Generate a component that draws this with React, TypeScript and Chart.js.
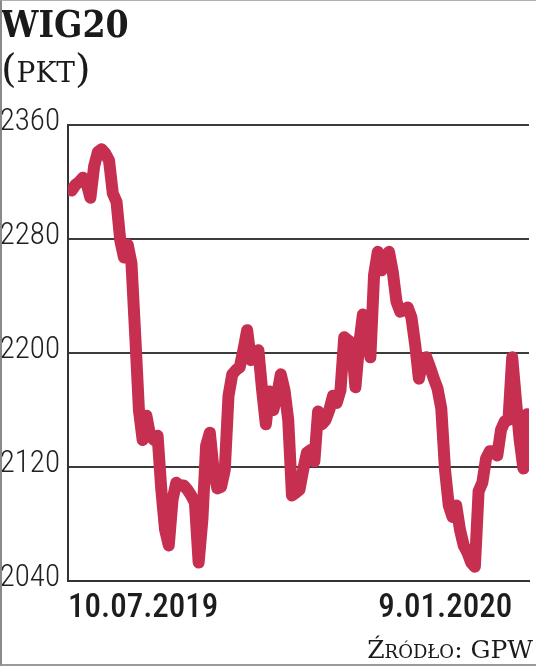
import React, { useEffect, useRef } from "react";
import { Chart, registerables } from "chart.js";

Chart.register(...registerables);

// WIG20 daily closes, one value per trading session (10.07.2019 – 9.01.2020)
const wig20: number[] = [
  2314, 2318, 2320, 2323, 2319, 2309, 2331, 2341, 2343, 2340,
  2335, 2312, 2306, 2279, 2267, 2276, 2263, 2213, 2160, 2139,
  2156, 2142, 2139, 2142, 2104, 2076, 2065, 2097, 2109, 2107,
  2107, 2104, 2100, 2095, 2053, 2083, 2135, 2144, 2118, 2105,
  2106, 2118, 2170, 2185, 2188, 2190, 2202, 2216, 2195, 2199,
  2202, 2174, 2150, 2173, 2160, 2170, 2185, 2174, 2153, 2100,
  2102, 2104, 2118, 2130, 2132, 2124, 2159, 2150, 2153, 2160,
  2170, 2165, 2174, 2211, 2209, 2207, 2176, 2206, 2227, 2225,
  2197, 2255, 2271, 2258, 2267, 2271, 2257, 2236, 2229, 2230,
  2232, 2225, 2206, 2182, 2194, 2197, 2190, 2182, 2175, 2161,
  2118, 2093, 2085, 2093, 2076, 2065, 2060, 2053, 2050, 2103,
  2109, 2126, 2131, 2131, 2128, 2146, 2152, 2153, 2197, 2167,
  2139, 2119, 2157,
];

const yTicks: number[] = [2040, 2120, 2200, 2280, 2360];
const xTickLabels: string[] = ["10.07.2019", "9.01.2020"];
const xTickPositions: number[] = [-1, 118];

const TITLE = "WIG20";
const UNIT = "PKT";
const SOURCE = "Źródło: GPW";

const LINE_COLOR = "#c62f50";
const SERIF = "'DejaVu Serif', serif";

export default function App() {
  const canvasRef = useRef<HTMLCanvasElement | null>(null);

  useEffect(() => {
    if (!canvasRef.current) return;
    const chart = new Chart(canvasRef.current, {
      type: "line",
      data: {
        datasets: [
          {
            data: wig20.map((v, i) => ({ x: i, y: v })),
            borderColor: LINE_COLOR,
            borderWidth: 12,
            pointRadius: 0,
            tension: 0,
            fill: false,
            borderJoinStyle: "round",
            borderCapStyle: "round",
          },
        ],
      },
      options: {
        responsive: false,
        animation: false,
        devicePixelRatio: 1,
        layout: { padding: { top: 125, left: 0, right: 7, bottom: 35 } },
        plugins: { legend: { display: false }, tooltip: { enabled: false } },
        scales: {
          x: {
            type: "linear",
            min: -1,
            max: wig20.length - 0.5,
            grid: { display: false, drawTicks: false },
            border: { display: true, color: "#333", width: 2 },
            afterBuildTicks: (s: any) => {
              s.ticks = xTickPositions.map((v) => ({ value: v }));
            },
            afterFit: (s: any) => {
              s.height = 50;
            },
            ticks: {
              autoSkip: false,
              align: "inner",
              maxRotation: 0,
              padding: 8,
              color: "#1d1d1d",
              font: { family: "Roboto", size: 33, weight: "condensed 500" },
              callback: (v: any) => {
                const i = xTickPositions.indexOf(Number(v));
                return i >= 0 ? xTickLabels[i] : "";
              },
            },
          },
          y: {
            min: 2040,
            max: 2360,
            afterBuildTicks: (s: any) => {
              s.ticks = yTicks.map((v) => ({ value: v }));
            },
            afterFit: (s: any) => {
              s.width = 68;
            },
            grid: { color: "#3c3c3c", lineWidth: 2, drawTicks: false },
            border: { display: true, color: "#333", width: 2 },
            ticks: {
              padding: 8,
              labelOffset: -3,
              color: "#222",
              font: { family: "Roboto", size: 31, weight: "condensed 300" },
              callback: (v: any) => String(v),
            },
          },
        },
      },
    } as any);
    return () => chart.destroy();
  }, []);

  return (
    <div
      style={{
        position: "absolute",
        left: 0,
        top: 0,
        width: 536,
        height: 666,
        background: "#fff",
        overflow: "hidden",
      }}
    >
      <canvas
        ref={canvasRef}
        width={536}
        height={666}
        style={{ position: "absolute", left: 0, top: 0, display: "block" }}
      />
      <div
        style={{
          position: "absolute",
          left: 1,
          top: 5.7,
          fontFamily: "'DejaVu Serif Condensed', 'DejaVu Serif', serif",
          fontWeight: "bold",
          fontSize: 37,
          lineHeight: "37px",
          color: "#1a1a1a",
          whiteSpace: "nowrap",
        }}
      >
        {TITLE}
      </div>
      <div
        style={{
          position: "absolute",
          left: 1,
          top: 48.2,
          fontFamily: SERIF,
          fontSize: 40,
          lineHeight: "40px",
          color: "#1a1a1a",
          whiteSpace: "nowrap",
        }}
      >
        <span>(</span>
        <span style={{ fontSize: 28 }}>{UNIT}</span>
        <span>)</span>
      </div>
      <div
        style={{
          position: "absolute",
          right: 3,
          top: 636.9,
          fontFamily: SERIF,
          fontSize: 25,
          lineHeight: "25px",
          fontVariant: "small-caps",
          color: "#1a1a1a",
          whiteSpace: "nowrap",
        }}
      >
        {SOURCE}
      </div>
      <div
        style={{
          position: "absolute",
          left: 0,
          top: 0,
          width: 536,
          height: 666,
          boxSizing: "border-box",
          borderLeft: "2px solid #8a8a8a",
          borderTop: "1px solid #b0b0b0",
          borderBottom: "2px solid #9a9a9a",
          pointerEvents: "none",
        }}
      />
    </div>
  );
}
